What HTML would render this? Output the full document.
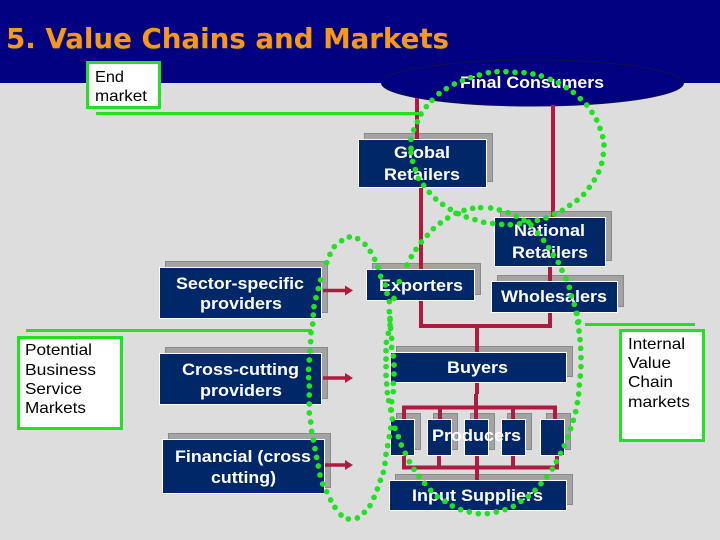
<!DOCTYPE html>
<html>
<head>
<meta charset="utf-8">
<style>
html,body{margin:0;padding:0;background:#ddd;}
svg{display:block;}
.s{fill:#a3a3a3;stroke:#8a8a8a;stroke-width:1;}
.b{fill:#002868;stroke:#fff;stroke-width:1;}
.r{stroke:#ad1c40;stroke-width:4;fill:none;}
.a{stroke:#ad1c40;stroke-width:3.5;fill:none;}
.h{fill:#ad1c40;}
.g{fill:#fff;stroke:#22e022;stroke-width:3;}
.l{stroke:#22e022;stroke-width:3;fill:none;}
.w{font:bold 17px "Liberation Sans",sans-serif;fill:#fff;}
.k{font:16px "Liberation Sans",sans-serif;fill:#000;}
.d{fill:none;stroke:none;marker-start:url(#dot);marker-mid:url(#dot);marker-end:url(#dot);}
</style>
</head>
<body>
<svg width="720" height="540" viewBox="0 0 720 540" xmlns="http://www.w3.org/2000/svg">
<defs>
<marker id="dot" markerUnits="userSpaceOnUse" viewBox="0 0 20 20" markerWidth="20" markerHeight="20" refX="10" refY="10"><circle cx="10" cy="10" r="8.500" fill="#22e022"/></marker>
</defs>
<rect width="720" height="540" fill="#ddd"/>
<rect width="720" height="83" fill="#000080"/>
<text x="6" y="48" font-family="'DejaVu Sans',sans-serif" font-weight="bold" font-size="28" fill="#1a1a60" textLength="443" lengthAdjust="spacingAndGlyphs" transform="translate(1,1)">5. Value Chains and Markets</text>
<text x="6" y="48" font-family="'DejaVu Sans',sans-serif" font-weight="bold" font-size="28" fill="#f7981d" textLength="443" lengthAdjust="spacingAndGlyphs">5. Value Chains and Markets</text>
<ellipse cx="532.500" cy="83" rx="151" ry="23" fill="#000080" stroke="#10104a" stroke-width="1"/>

<!-- shadows -->
<rect class="s" x="364.500" y="133.500" width="128" height="48"/>
<rect class="s" x="500.500" y="211.500" width="111" height="49"/>
<rect class="s" x="372.500" y="263.500" width="108" height="31"/>
<rect class="s" x="497.500" y="275.500" width="126" height="31"/>
<rect class="s" x="396.500" y="346.500" width="176" height="30"/>
<rect class="s" x="396.500" y="413.500" width="24" height="36"/>
<rect class="s" x="433.500" y="413.500" width="24" height="36"/>
<rect class="s" x="470.500" y="413.500" width="24" height="36"/>
<rect class="s" x="507.500" y="413.500" width="24" height="36"/>
<rect class="s" x="546.500" y="413.500" width="24" height="36"/>
<rect class="s" x="395.500" y="474.500" width="177" height="30"/>
<rect class="s" x="165.500" y="261.500" width="162" height="51"/>
<rect class="s" x="165.500" y="347.500" width="162" height="51"/>
<rect class="s" x="168.500" y="433.500" width="162" height="54"/>

<!-- red connectors -->
<path class="r" d="M417 98V140M421 187V269M553 105V217M550 266V281"/>
<path class="r" d="M421 300V326H550V312M477 326V352M477 382V394M476 394V408"/>
<path class="r" d="M402 407.500H557M404 407V420M440 407V420M476 407V420M513 407V420M555 407V420"/>
<path class="r" d="M404 455V467.500H557V455M439 455V467M477 455V481M513 455V467"/>

<path class="a" d="M323 290.500H346M323 378H346M325 465H346"/>
<path class="h" d="M345 285.500L353 290.500L345 295.500ZM345 373L353 378L345 383ZM345 460L353 465L345 470Z"/>

<!-- boxes -->
<rect class="b" x="358.500" y="139.500" width="128" height="48"/>
<rect class="b" x="494.500" y="217.500" width="111" height="49"/>
<rect class="b" x="366.500" y="269.500" width="108" height="31"/>
<rect class="b" x="491.500" y="281.500" width="126" height="31"/>
<rect class="b" x="390.500" y="352.500" width="176" height="30"/>
<rect class="b" x="390.500" y="419.500" width="24" height="36"/>
<rect class="b" x="427.500" y="419.500" width="24" height="36"/>
<rect class="b" x="464.500" y="419.500" width="24" height="36"/>
<rect class="b" x="501.500" y="419.500" width="24" height="36"/>
<rect class="b" x="540.500" y="419.500" width="24" height="36"/>
<rect class="b" x="389.500" y="480.500" width="177" height="30"/>
<rect class="b" x="159.500" y="267.500" width="162" height="51"/>
<rect class="b" x="159.500" y="353.500" width="162" height="51"/>
<rect class="b" x="162.500" y="439.500" width="162" height="54"/>

<!-- green boxes and lines -->
<rect class="g" x="87.500" y="62.500" width="72" height="45"/>
<rect class="g" x="18.500" y="337.500" width="103" height="91"/>
<rect class="g" x="620.500" y="330.500" width="83" height="110"/>
<path class="l" d="M96 113.500H421M26 330.500H312M585 324.500H695"/>

<!-- labels -->
<text class="w" x="460" y="88" textLength="144" lengthAdjust="spacingAndGlyphs">Final Consumers</text>
<text class="w" x="394" y="158" textLength="56" lengthAdjust="spacingAndGlyphs">Global</text>
<text class="w" x="384" y="180" textLength="76" lengthAdjust="spacingAndGlyphs">Retailers</text>
<text class="w" x="514" y="236" textLength="71" lengthAdjust="spacingAndGlyphs">National</text>
<text class="w" x="512" y="258" textLength="76" lengthAdjust="spacingAndGlyphs">Retailers</text>
<text class="w" x="379" y="291" textLength="84" lengthAdjust="spacingAndGlyphs">Exporters</text>
<text class="w" x="501" y="302" textLength="106" lengthAdjust="spacingAndGlyphs">Wholesalers</text>
<text class="w" x="447" y="373" textLength="61" lengthAdjust="spacingAndGlyphs">Buyers</text>
<text class="w" x="432" y="441" textLength="89" lengthAdjust="spacingAndGlyphs">Producers</text>
<text class="w" x="412" y="501" textLength="131" lengthAdjust="spacingAndGlyphs">Input Suppliers</text>
<text class="w" x="176" y="289" textLength="128" lengthAdjust="spacingAndGlyphs">Sector-specific</text>
<text class="w" x="200" y="309" textLength="82" lengthAdjust="spacingAndGlyphs">providers</text>
<text class="w" x="182" y="375" textLength="117" lengthAdjust="spacingAndGlyphs">Cross-cutting</text>
<text class="w" x="200" y="396" textLength="82" lengthAdjust="spacingAndGlyphs">providers</text>
<text class="w" x="175" y="462" textLength="136" lengthAdjust="spacingAndGlyphs">Financial (cross</text>
<text class="w" x="211" y="483" textLength="65" lengthAdjust="spacingAndGlyphs">cutting)</text>

<text class="k" x="95" y="82" textLength="29" lengthAdjust="spacingAndGlyphs">End</text>
<text class="k" x="95" y="101" textLength="52" lengthAdjust="spacingAndGlyphs">market</text>
<text class="k" x="25" y="355" textLength="67" lengthAdjust="spacingAndGlyphs">Potential</text>
<text class="k" x="25" y="375" textLength="71" lengthAdjust="spacingAndGlyphs">Business</text>
<text class="k" x="25" y="394" textLength="57" lengthAdjust="spacingAndGlyphs">Service</text>
<text class="k" x="25" y="413" textLength="61" lengthAdjust="spacingAndGlyphs">Markets</text>
<text class="k" x="628" y="349" textLength="57" lengthAdjust="spacingAndGlyphs">Internal</text>
<text class="k" x="628" y="368" textLength="43" lengthAdjust="spacingAndGlyphs">Value</text>
<text class="k" x="628" y="387" textLength="45" lengthAdjust="spacingAndGlyphs">Chain</text>
<text class="k" x="628" y="407" textLength="62" lengthAdjust="spacingAndGlyphs">markets</text>

<!-- dotted loops, top-right crop frame -->
<g transform="translate(340,50) scale(0.33333)">
<polyline class="d" points="213,268 221,240 232,215 243,192 259,170 276,151 297,131 319,116 343,102 367,92 392,83 418,75 445,68 471,65 498,65 525,67 552,68 579,72 604,78 631,88 655,98 679,113 700,127 721,146 740,165 756,187 770,210 780,235 788,260 792,285 790,313 785,340 776,366 763,390 748,412 731,433 711,451 689,466 667,481 643,492 618,504 592,511 566,516 539,521 511,524 485,523 458,520 431,517 405,509 379,501 355,491 331,478 308,463 287,447 268,427 251,406 235,385 226,359 218,334 213,308 213,295"/>
<polyline class="d" points="162,745 178,695 201,645 214,620 228,598 244,576 262,556 280,536 301,519 323,504 348,490 372,481 398,475 422,473 452,474 478,480 504,488 529,499 552,511 573,525 593,549 611,571 626,593 640,615 655,637 666,661 678,686 688,712 694,738 703,763 711,790 716,815"/>
<polyline class="d" points="5,572 28,561 53,566 75,583 91,604 104,628 114,652 122,679 136,705 141,730 148,755 148,785 150,810 152,835"/>
</g>
<!-- dotted loops, lower crop frame -->
<g transform="translate(340,310) scale(0.33333)">
<polyline class="d" points="709,10 713,37 717,63 720,89 722,115 723,143 723,170 721,198 718,225 716,252 712,278 707,305 700,331 692,356 683,381 673,407 662,430 649,455 637,477 620,501 603,521 585,541 565,559 543,574 520,589 495,599 469,606 442,611 415,611 388,606 362,599 337,588 315,574 292,560 272,541 254,520 237,499 222,478 208,455 196,430 184,405 175,380 165,355 157,327 154,300 155,275 160,245 160,220 162,192 162,165 160,138 155,112 155,85 150,45"/>
<polyline class="d" points="148,5 150,25 145,70 139,97 138,122 138,147 138,170 138,196 140,222 142,248 146,272 152,300 152,354 148,380 143,407 138,433 135,460 130,487 121,511 112,537 102,562 90,587 73,607 52,624 25,627 3,615"/>
</g>
<!-- dotted loops, left crop frame -->
<g transform="translate(0,230) scale(0.33333)">
<polyline class="d" points="1005,832 992,810 980,785 968,762 960,735 955,708 950,682 945,656 940,630 935,604 932,576 928,549 928,522 928,495 928,468 926,443 926,418 928,390 930,363 932,335 933,308 938,282 940,255 942,230 948,203 955,176 962,150 980,98 990,73 1003,50"/>
</g>
</svg>
</body>
</html>
